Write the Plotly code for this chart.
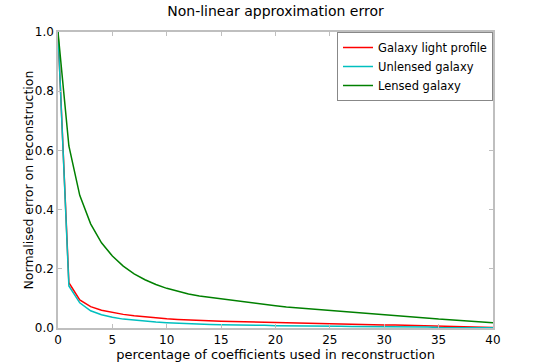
import plotly.graph_objects as go

coeff_pct = list(range(0, 41))

galaxy_light_profile = [1.0, 0.153, 0.095, 0.072, 0.060, 0.052, 0.046, 0.041, 0.037, 0.034,
                        0.031, 0.029, 0.027, 0.025, 0.024, 0.023, 0.022, 0.021, 0.020, 0.019,
                        0.018, 0.017, 0.016, 0.016, 0.015, 0.014, 0.013, 0.013, 0.012, 0.011,
                        0.010, 0.010, 0.009, 0.008, 0.007, 0.007, 0.006, 0.005, 0.004, 0.003,
                        0.002]

unlensed_galaxy = [1.0, 0.142, 0.085, 0.058, 0.045, 0.036, 0.030, 0.026, 0.022, 0.020,
                   0.018, 0.016, 0.015, 0.013, 0.012, 0.011, 0.011, 0.010, 0.009, 0.009,
                   0.008, 0.008, 0.007, 0.007, 0.006, 0.006, 0.006, 0.005, 0.005, 0.005,
                   0.004, 0.004, 0.004, 0.003, 0.003, 0.002, 0.002, 0.002, 0.001, 0.001,
                   0.001]

lensed_galaxy = [1.0, 0.615, 0.448, 0.352, 0.288, 0.243, 0.209, 0.183, 0.163, 0.147,
                 0.134, 0.124, 0.115, 0.108, 0.103, 0.098, 0.093, 0.088, 0.084, 0.079,
                 0.075, 0.071, 0.068, 0.065, 0.061, 0.058, 0.055, 0.053, 0.050, 0.047,
                 0.044, 0.041, 0.039, 0.036, 0.033, 0.030, 0.028, 0.025, 0.023, 0.020,
                 0.018]

series = [
    ("Galaxy light profile", galaxy_light_profile, "#ff0000"),
    ("Unlensed galaxy", unlensed_galaxy, "#00bfbf"),
    ("Lensed galaxy", lensed_galaxy, "#008000"),
]

x_ticks = [0, 5, 10, 15, 20, 25, 30, 35, 40]
y_ticks = [0.0, 0.2, 0.4, 0.6, 0.8, 1.0]
y_tick_labels = ["0.0", "0.2", "0.4", "0.6", "0.8", "1.0"]

fig = go.Figure()
for name, vals, col in series:
    fig.add_trace(go.Scatter(x=coeff_pct, y=vals, mode="lines", name=name,
                             line=dict(color=col, width=1.5)))

axis_common = dict(showgrid=False, zeroline=False, showline=True, linecolor="#bfbfbf",
                   linewidth=1.5, mirror="allticks", ticks="inside", ticklen=4,
                   tickcolor="#bfbfbf", tickfont=dict(size=12, color="black"),
                   automargin=False)

fig.update_layout(
    width=540, height=362,
    margin=dict(l=58, r=47, t=32, b=34),
    paper_bgcolor="white", plot_bgcolor="white",
    font=dict(family="DejaVu Sans", color="black", size=12),
    title=dict(text="Non-linear approximation error", x=0.5, xanchor="center",
               xref="paper", y=1, yref="container", yanchor="top", pad=dict(t=6),
               font=dict(size=14)),
    xaxis=dict(range=[0, 40], tickvals=x_ticks,
               title=dict(text="percentage of coefficients used in reconstruction",
                          font=dict(size=13), standoff=0), **axis_common),
    yaxis=dict(range=[0, 1], tickvals=y_ticks, ticktext=y_tick_labels, **axis_common),
    legend=dict(x=1, xanchor="right", y=1, yanchor="top", bordercolor="#888888",
                borderwidth=1, bgcolor="white", font=dict(size=11.5),
                tracegroupgap=0),
    showlegend=True,
    annotations=[dict(text="Normalised error on reconstruction", textangle=-90,
                      xref="paper", yref="paper", x=0, y=0.5, xanchor="right",
                      yanchor="middle", xshift=-21, showarrow=False,
                      font=dict(size=12.5, color="black"))],
)

# remove the browser's default 8px page margin so the figure sits at the page corner
fig.write_html("out.html", config={"displayModeBar": False},
               post_script="document.body.style.margin='0';")
